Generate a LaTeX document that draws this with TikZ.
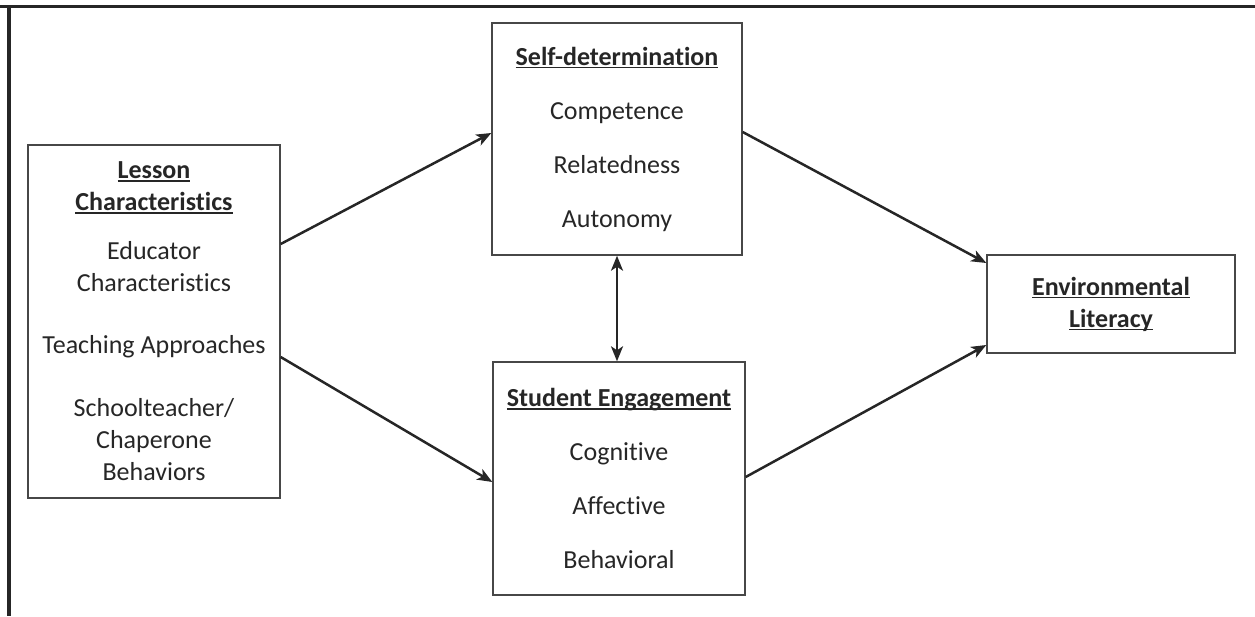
\documentclass[tikz,border=0pt]{standalone}
\usepackage{fontspec}
\setmainfont{Carlito}[Ligatures=NoCommon]
\usepackage{xcolor}
\usepackage{tikz}
\usetikzlibrary{arrows.meta, positioning, calc}
\definecolor{ink}{HTML}{262626}
\tikzset{%
	box/.style={draw=ink!85, line width=1.4pt, rectangle, align=center, inner sep=0pt, text=ink},
	link/.style={-{Stealth[length=15pt, width=12pt, inset=4pt]}, line width=2.5pt, draw=ink},
	twoway/.style={{Stealth[length=15pt, width=12pt, inset=4pt]}-{Stealth[length=15pt, width=12pt, inset=4pt]}, line width=2.5pt, draw=ink},
	frameline/.style={line width=3.5pt, draw=ink}
}
\newcommand{\hdr}[1]{\setbox0\hbox{\bfseries #1}\rlap{\rule[-0.13em]{\wd0}{0.07em}}\box0}

\begin{document}
\begin{tikzpicture}[x=1pt, y=-1pt, font=\fontsize{26}{32}\selectfont]
	\useasboundingbox (0,0) rectangle (1255,616);

	\draw[frameline] (0,6.5) -- (1255,6.5);
	\draw[frameline] (9,6.5) -- (9,616);

	\node[box, minimum width=252pt, minimum height=353pt] (lesson) at (154,321.5)
		{\hdr{Lesson}\\ \hdr{Characteristics}\\[17pt] Educator\\ Characteristics\\[30pt]
		 Teaching Approaches\\[31pt] Schoolteacher/\\ Chaperone\\ Behaviors};
	\node[box, minimum width=250pt, minimum height=232pt] (selfdet) at (617,139)
		{\hdr{Self-determination}\\[22pt] Competence\\[22pt] Relatedness\\[22pt] Autonomy};
	\node[box, minimum width=252pt, minimum height=233pt] (engage) at (619,478.5)
		{\hdr{Student Engagement}\\[22pt] Cognitive\\[22pt] Affective\\[22pt] Behavioral};
	\node[box, minimum width=248pt, minimum height=98pt] (envlit) at (1111,304)
		{\hdr{Environmental}\\ \hdr{Literacy}};

	\draw[link] ([yshift=77.5pt]lesson.east) -- ([yshift=6pt]selfdet.west);
	\draw[link] ([yshift=-35.5pt]lesson.east) -- ([yshift=-3.5pt]engage.west);
	\draw[link] ([yshift=7pt]selfdet.east) -- ([yshift=41pt]envlit.west);
	\draw[link] ([yshift=1.5pt]engage.east) -- ([yshift=-41pt]envlit.west);
	\draw[twoway] (selfdet.south) -- (selfdet.south |- engage.north);
\end{tikzpicture}
\end{document}
